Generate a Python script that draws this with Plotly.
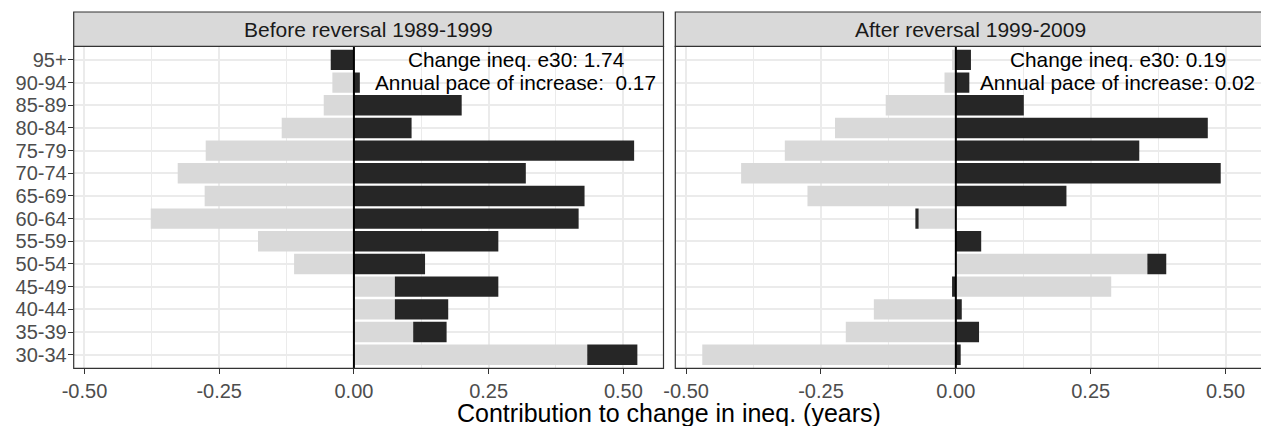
import plotly.graph_objects as go

# age groups, bottom to top
ages = ["30-34", "35-39", "40-44", "45-49", "50-54", "55-59", "60-64",
        "65-69", "70-74", "75-79", "80-84", "85-89", "90-94", "95+"]

# Before reversal 1989-1999
before_light = [0.433, 0.110, 0.076, 0.076, -0.111, -0.178, -0.377,
                -0.277, -0.327, -0.275, -0.134, -0.056, -0.040, 0.0]
before_dark = [0.093, 0.062, 0.099, 0.192, 0.132, 0.268, 0.417,
               0.428, 0.319, 0.520, 0.107, 0.200, 0.011, -0.043]

# After reversal 1999-2009
after_light = [-0.470, -0.204, -0.152, 0.288, 0.355, 0.0, -0.069,
               -0.275, -0.398, -0.317, -0.224, -0.130, -0.021, -0.007]
after_dark = [0.009, 0.043, 0.011, -0.007, 0.035, 0.047, -0.006,
              0.205, 0.491, 0.340, 0.467, 0.126, 0.025, 0.028]

panel_titles = ["Before reversal 1989-1999", "After reversal 1999-2009"]
notes_before = ["Change ineq. e30: 1.74", "Annual pace of increase:\u00a0 0.17"]
notes_after = ["Change ineq. e30: 0.19", "Annual pace of increase: 0.02"]

tickvals = [-0.5, -0.25, 0, 0.25, 0.5]
ticktext = ["-0.50", "-0.25", "0.00", "0.25", "0.50"]

FONT = "Liberation Sans, Arial, Helvetica, sans-serif"
LIGHT = "#D9D9D9"
DARK = "#262626"
EDGE = "#333333"
GRID = "#EBEBEB"

W, H = 1261, 426


def px(x):
    return x / W


def py(y):
    return (H - y) / H


left_dom = [px(73.7), px(663.5)]
right_dom = [px(675.3), 1.0]
y_dom = [py(368.3), py(46.3)]
strip_top = py(12)

fig = go.Figure()
for light, dark, xa, ya in [(before_light, before_dark, "x", "y"),
                            (after_light, after_dark, "x2", "y2")]:
    fig.add_trace(go.Bar(x=light, y=ages, orientation="h", marker_color=LIGHT,
                         marker_line_width=0, xaxis=xa, yaxis=ya, showlegend=False))
    fig.add_trace(go.Bar(x=dark, y=ages, orientation="h", marker_color=DARK,
                         marker_line_width=0, xaxis=xa, yaxis=ya, showlegend=False))

xcommon = dict(tickmode="array", tickvals=tickvals, ticktext=ticktext,
               ticks="outside", ticklen=5, tickwidth=1.2, tickcolor=EDGE,
               tickfont=dict(size=20, color="#4D4D4D"), automargin=False,
               showgrid=True, gridcolor=GRID, gridwidth=1.6, zeroline=False,
               showline=False,
               minor=dict(tickvals=[-0.375, -0.125, 0.125, 0.375], showgrid=True,
                          gridcolor=GRID, gridwidth=0.8, ticks=""))
ycommon = dict(categoryorder="array", categoryarray=ages, range=[-0.6, 13.6],
               tickmode="array", tickvals=ages, automargin=False,
               showgrid=True, gridcolor=GRID, gridwidth=1.6, zeroline=False,
               showline=False, domain=y_dom)

fig.update_layout(
    width=W, height=H, autosize=False,
    margin=dict(l=0, r=0, t=0, b=0),
    paper_bgcolor="white", plot_bgcolor="white",
    font=dict(family=FONT, color="black"),
    barmode="relative", bargap=0.1,
    xaxis=dict(domain=left_dom, range=[-0.520, 0.5745], anchor="y", **xcommon),
    xaxis2=dict(domain=right_dom, range=[-0.520, -0.520 + (1261 - 675.3) / 539.5],
                anchor="y2", **xcommon),
    yaxis=dict(ticks="outside", ticklen=5, tickwidth=1.2, tickcolor=EDGE,
               ticklabelstandoff=-3,
               tickfont=dict(size=20, color="#4D4D4D"), anchor="x", **ycommon),
    yaxis2=dict(showticklabels=False, ticks="", anchor="x2", matches="y", **ycommon),
)

shapes = []
for dom, xref in [(left_dom, "x"), (right_dom, "x2")]:
    x1 = dom[1] if xref == "x" else 1.01
    # zero line
    shapes.append(dict(type="line", xref=xref, yref="paper", x0=0, x1=0,
                       y0=y_dom[0], y1=y_dom[1], line=dict(color="black", width=2),
                       layer="above"))
    # panel border
    shapes.append(dict(type="rect", xref="paper", yref="paper", x0=dom[0], x1=x1,
                       y0=y_dom[0], y1=y_dom[1], line=dict(color=EDGE, width=1.2),
                       fillcolor="rgba(0,0,0,0)", layer="above"))
    # facet strip
    shapes.append(dict(type="rect", xref="paper", yref="paper", x0=dom[0], x1=x1,
                       y0=y_dom[1], y1=strip_top, line=dict(color=EDGE, width=1.2),
                       fillcolor=LIGHT, layer="above"))
fig.update_layout(shapes=shapes)

strip_mid = (y_dom[1] + strip_top) / 2
fig.add_annotation(text=panel_titles[0], xref="paper", yref="paper",
                   x=px((73.7 + 663.5) / 2), y=strip_mid, showarrow=False,
                   font=dict(size=21, color="#1A1A1A"), xanchor="center", yanchor="middle")
fig.add_annotation(text=panel_titles[1], xref="paper", yref="paper",
                   x=px(970), y=strip_mid, showarrow=False,
                   font=dict(size=21, color="#1A1A1A"), xanchor="center", yanchor="middle")

for notes, xr, yr in [(notes_before, "x", "y"), (notes_after, "x2", "y2")]:
    for txt, age in zip(notes, ["95+", "90-94"]):
        fig.add_annotation(text=txt, xref=xr, yref=yr, x=0.3, y=age, showarrow=False,
                           font=dict(size=20.8, color="black"),
                           xanchor="center", yanchor="middle")

fig.add_annotation(text="Contribution to change in ineq. (years)", xref="paper",
                   yref="paper", x=px(669), y=py(413), showarrow=False,
                   font=dict(size=25, color="black"), xanchor="center", yanchor="middle")

# drop the default body margin so the figure fills the window exactly
fig.write_html("out.html", config={"displayModeBar": False},
               post_script="document.body.style.margin='0';"
                           "document.body.style.overflow='hidden';")
